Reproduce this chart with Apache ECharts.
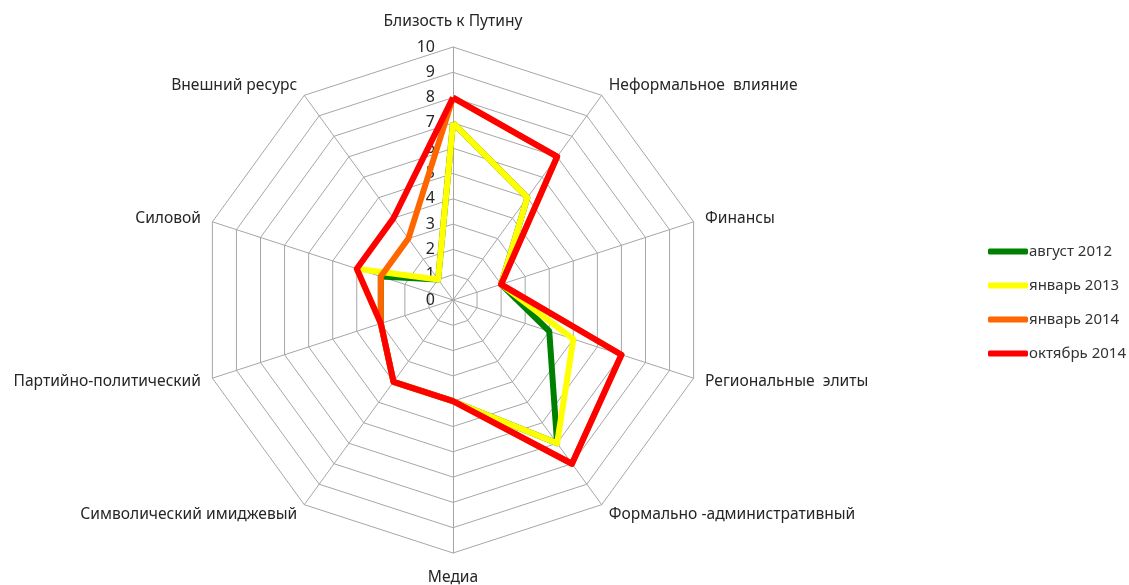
<!DOCTYPE html>
<html>
<head>
<meta charset="utf-8">
<script src="https://cdn.jsdelivr.net/npm/echarts@6/dist/echarts.min.js"></script>
<style>
  html, body { margin: 0; padding: 0; background: #fff; }
  #chart { width: 1129px; height: 585px; }
</style>
</head>
<body>
<div id="chart"></div>
<script>
// оси радара (по часовой стрелке от верхней)
const axes = [
  'Близость к Путину',
  'Неформальное  влияние',
  'Финансы',
  'Региональные  элиты',
  'Формально -административный',
  'Медиа',
  'Символический имиджевый',
  'Партийно-политический',
  'Силовой',
  'Внешний ресурс'
];
const seriesNames = ['август 2012', 'январь 2013', 'январь 2014', 'октябрь 2014'];
const aug2012 = [7, 5, 2, 4, 7, 4, 4, 3, 3, 1];
const jan2013 = [7, 5, 2, 5, 7, 4, 4, 3, 4, 1];
const jan2014 = [8, 7, 2, 7, 8, 4, 4, 3, 3, 3];
const oct2014 = [8, 7, 2, 7, 8, 4, 4, 3, 4, 4];
const colors = ['#008000', '#FFFF00', '#FF6600', '#FF0000'];
const maxValue = 10;

const chart = echarts.init(document.getElementById('chart'));
const font = '"Noto Sans", sans-serif';

const values = [aug2012, jan2013, jan2014, oct2014];
// echarts рисует оси против часовой стрелки, поэтому переставляем: 0, 9, 8, ... 1
const order = axes.map((_, i) => (i === 0 ? 0 : axes.length - i));

const option = {
  animation: false,
  textStyle: { fontFamily: font },
  legend: {
    orient: 'vertical',
    left: 983,
    top: 239,
    itemWidth: 40,
    itemHeight: 6,
    itemGap: 19,
    icon: 'roundRect',
    textStyle: { fontSize: 15, color: '#333', fontFamily: font, padding: [0, 0, 0, -4] },
    data: seriesNames
  },
  radar: {
    center: [453, 300],
    radius: 253,
    startAngle: 90,
    splitNumber: 10,
    shape: 'polygon',
    indicator: order.map((k, i) => {
      const ind = { name: axes[k], min: 0, max: maxValue };
      if (i === 0) {
        ind.axisLabel = { show: true };
      }
      return ind;
    }),
    axisName: { color: '#262626', fontSize: 15.6, fontFamily: font, padding: [5, 0, 5, 0] },
    nameGap: 12,
    axisLine: { lineStyle: { color: '#A6A6A6', width: 1 } },
    splitLine: { lineStyle: { color: '#A6A6A6', width: 1 } },
    splitArea: { show: false },
    axisTick: { show: false },
    axisLabel: { show: false, color: '#262626', fontSize: 16, fontFamily: font, margin: 18 }
  },
  series: [{
    type: 'radar',
    symbol: 'none',
    data: seriesNames.map((name, i) => ({
      name: name,
      value: order.map(k => values[i][k]),
      lineStyle: { color: colors[i], width: 6 },
      itemStyle: { color: colors[i] }
    }))
  }]
};
chart.setOption(option);
</script>
</body>
</html>
